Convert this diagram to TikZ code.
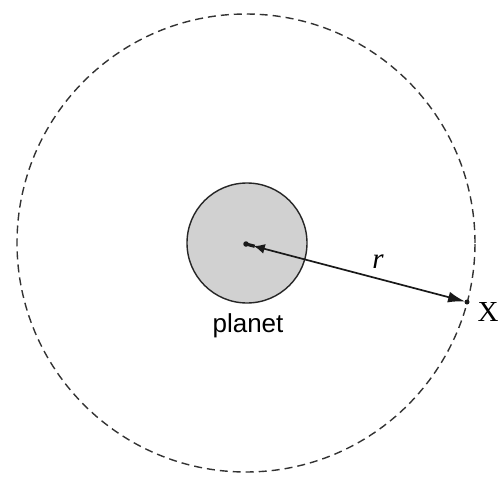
\documentclass[tikz,border=0pt]{standalone}
\usepackage{fontspec}
\setmainfont{Liberation Serif}
\newfontfamily\labelsans{Liberation Sans}
\usetikzlibrary{arrows.meta,calc}
\begin{document}
\begin{tikzpicture}[x=1pt,y=-1pt,
  orbit/.style={circle, draw=black!80, line width=1.4pt, dash pattern=on 8pt off 5pt, minimum size=458pt, inner sep=0pt},
  planetbody/.style={circle, draw=black!85, line width=1.4pt, fill=black!18, minimum size=120pt, inner sep=0pt},
  radline/.style={draw=black!90, line width=1.7pt},
  dotmark/.style={circle, fill=black!90, inner sep=0pt, minimum size=5pt},
  seriflabel/.style={font=\fontsize{29}{32}\selectfont, inner sep=0pt},
  sanslabel/.style={font=\labelsans\fontsize{26}{30}\selectfont, inner sep=0pt}]
\useasboundingbox (0,0) rectangle (499,479);
\node[orbit] (orbitc) at (246,243) {};
\node[planetbody] (planet) at (247,243) {};
\node[dotmark, minimum size=5.5pt] (c) at (246,244) {};
\node[dotmark, minimum size=5pt] (xp) at (467,302) {};
\draw[radline, line width=3.2pt] (c.center) -- ($(c.center)!9pt!(xp.center)$);
\draw[radline, {Latex[length=11pt,width=10pt]}-{Latex[length=17pt,width=11pt]}, shorten <=8pt, shorten >=2pt] (c.center) -- (xp.center);
\node[seriflabel] (rl) at (378,262) {\textit{r}};
\node[seriflabel] (xl) at (488,312) {X};
\node[sanslabel] (pl) at (248,326) {planet};
\end{tikzpicture}
\end{document}
